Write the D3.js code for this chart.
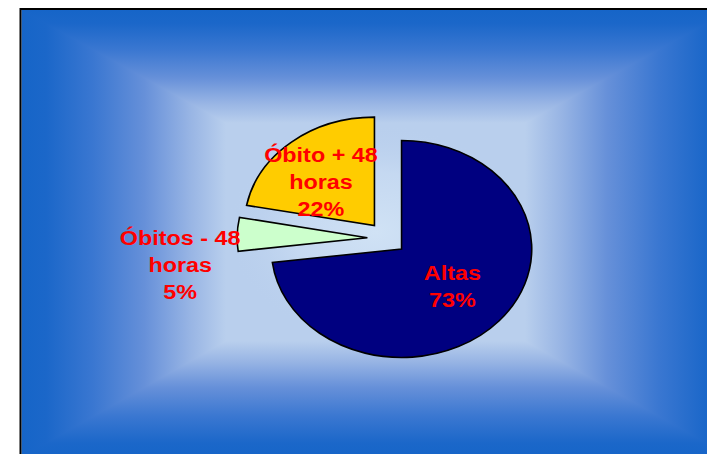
<!DOCTYPE html>
<html>
<head>
<meta charset="utf-8">
<script src="https://cdn.jsdelivr.net/npm/d3@7"></script>
<style>
  html, body { margin: 0; padding: 0; background: #ffffff; }
  svg { display: block; }
</style>
</head>
<body>
<script>
// ---- data ----
const categories = ["Altas", "Óbitos - 48 horas", "Óbito + 48 horas"];
const values = [73, 5, 22];
const sliceColors = ["#000080", "#CCFFCC", "#FFCC00"];

// ---- layout ----
const W = 707, H = 454;
const frame = { x0: 20.5, y0: 9, x1: 731, y1: 457 };
const focus = { x0: 226, y0: 123, x1: 525, y1: 341 }; // light centre of the rectangular gradient
const center = { x: 386.9, y: 238.2 };
const R = 108.5;          // vertical radius
const kx = 130.2 / 108.5; // horizontal stretch of the pie
const explode = 0.15;     // explosion as fraction of radius
const labelLayout = {
  "Altas": { r: 0.52, da: 0 },
  "Óbitos - 48 horas": { r: 1.46, da: -11.8 },
  "Óbito + 48 horas": { r: 0.575, da: -6 }
};
const fontSize = 20.5, textStretch = 1.14, lineH = 27;

const svg = d3.select("body").append("svg").attr("width", W).attr("height", H);
const defs = svg.append("defs");

// ---- rectangular gradient background ----
const stops = [
  [0, "#1665c8"], [0.12, "#1b67c9"], [0.35, "#3a77d1"], [0.6, "#6690d9"],
  [0.82, "#97b4e4"], [1, "#b9cfed"]
];
const centreColor = "#b9cfed";
const gx0 = frame.x0 + 1, gy0 = frame.y0 + 1, gx1 = frame.x1, gy1 = frame.y1;
function grad(id, x1, y1, x2, y2) {
  const lg = defs.append("linearGradient").attr("id", id)
    .attr("gradientUnits", "userSpaceOnUse")
    .attr("x1", x1).attr("y1", y1).attr("x2", x2).attr("y2", y2);
  stops.forEach(([o, c]) => lg.append("stop").attr("offset", o).attr("stop-color", c));
}
grad("gLeft", gx0, 0, focus.x0, 0);
grad("gRight", gx1, 0, focus.x1, 0);
grad("gTop", 0, gy0, 0, focus.y0);
grad("gBot", 0, gy1, 0, focus.y1);
const rg = defs.append("radialGradient").attr("id", "gCentre")
  .attr("cx", 0.5).attr("cy", 0.5).attr("r", 0.5);
rg.append("stop").attr("offset", 0).attr("stop-color", "#d0e2f5").attr("stop-opacity", 1);
rg.append("stop").attr("offset", 0.55).attr("stop-color", "#c8dbf2").attr("stop-opacity", 0.8);
rg.append("stop").attr("offset", 1).attr("stop-color", centreColor).attr("stop-opacity", 0);

const bg = svg.append("g");
bg.append("rect").attr("x", focus.x0 - 1).attr("y", focus.y0 - 1)
  .attr("width", focus.x1 - focus.x0 + 2).attr("height", focus.y1 - focus.y0 + 2)
  .attr("fill", centreColor);
bg.append("rect").attr("x", gx0).attr("y", gy0).attr("width", focus.x0 - gx0 + 0.5).attr("height", gy1 - gy0)
  .attr("fill", "url(#gLeft)");
bg.append("rect").attr("x", focus.x1 - 0.5).attr("y", gy0).attr("width", gx1 - focus.x1 + 0.5).attr("height", gy1 - gy0)
  .attr("fill", "url(#gRight)");
const trap = pts => "M" + pts.map(p => p.join(",")).join("L") + "Z";
bg.append("path").attr("d", trap([[gx0, gy0], [gx1, gy0], [focus.x1, focus.y0 + 0.5], [focus.x0, focus.y0 + 0.5]]))
  .attr("fill", "url(#gTop)");
bg.append("path").attr("d", trap([[gx0, gy1], [gx1, gy1], [focus.x1, focus.y1 - 0.5], [focus.x0, focus.y1 - 0.5]]))
  .attr("fill", "url(#gBot)");
bg.append("ellipse")
  .attr("cx", (focus.x0 + focus.x1) / 2).attr("cy", (focus.y0 + focus.y1) / 2)
  .attr("rx", (focus.x1 - focus.x0) / 2).attr("ry", (focus.y1 - focus.y0) / 2)
  .attr("fill", "url(#gCentre)");

svg.append("rect")
  .attr("x", frame.x0).attr("y", frame.y0)
  .attr("width", frame.x1 - frame.x0).attr("height", frame.y1 - frame.y0)
  .attr("fill", "none").attr("stroke", "#000").attr("stroke-width", 2);

// ---- pie ----
const data = categories.map((c, i) => ({ name: c, value: values[i], color: sliceColors[i] }));
const total = d3.sum(values);
const pie = d3.pie().value(d => d.value).sort(null).startAngle(0);
const arcs = pie(data);
const arc = d3.arc().innerRadius(0).outerRadius(R);

const pieG = svg.append("g").attr("transform", `translate(${center.x},${center.y}) scale(${kx},1)`);
arcs.forEach(a => {
  const mid = (a.startAngle + a.endAngle) / 2;
  a.off = [Math.sin(mid) * R * explode, -Math.cos(mid) * R * explode];
  a.mid = mid;
});
pieG.selectAll("path.slice").data(arcs).join("path")
  .attr("class", "slice")
  .attr("transform", d => `translate(${d.off[0]},${d.off[1]})`)
  .attr("d", arc)
  .attr("fill", d => d.data.color)
  .attr("stroke", "#000")
  .attr("stroke-width", 1.6)
  .attr("stroke-linejoin", "miter")
  .attr("vector-effect", "non-scaling-stroke");

// ---- labels ----
const labG = svg.append("g");
arcs.forEach(a => {
  const L = labelLayout[a.data.name];
  const ang = a.mid + L.da * Math.PI / 180;
  const ux = a.off[0] + Math.sin(ang) * R * L.r;
  const uy = a.off[1] - Math.cos(ang) * R * L.r;
  const px = center.x + ux * kx, py = center.y + uy;
  const lines = a.data.name.replace(" horas", "\nhoras").split("\n");
  lines.push(Math.round(a.data.value / total * 100) + "%");
  const n = lines.length;
  const t = labG.append("text")
    .attr("transform", `translate(${px},${py}) scale(${textStretch},1)`)
    .attr("text-anchor", "middle")
    .attr("font-family", "Liberation Sans, Arial, sans-serif")
    .attr("font-weight", "bold")
    .attr("font-size", fontSize)
    .attr("fill", "#FF0000");
  lines.forEach((ln, i) => {
    t.append("tspan").attr("x", 0)
      .attr("y", (i - (n - 1) / 2) * lineH + fontSize * 0.35)
      .text(ln);
  });
});
</script>
</body>
</html>
